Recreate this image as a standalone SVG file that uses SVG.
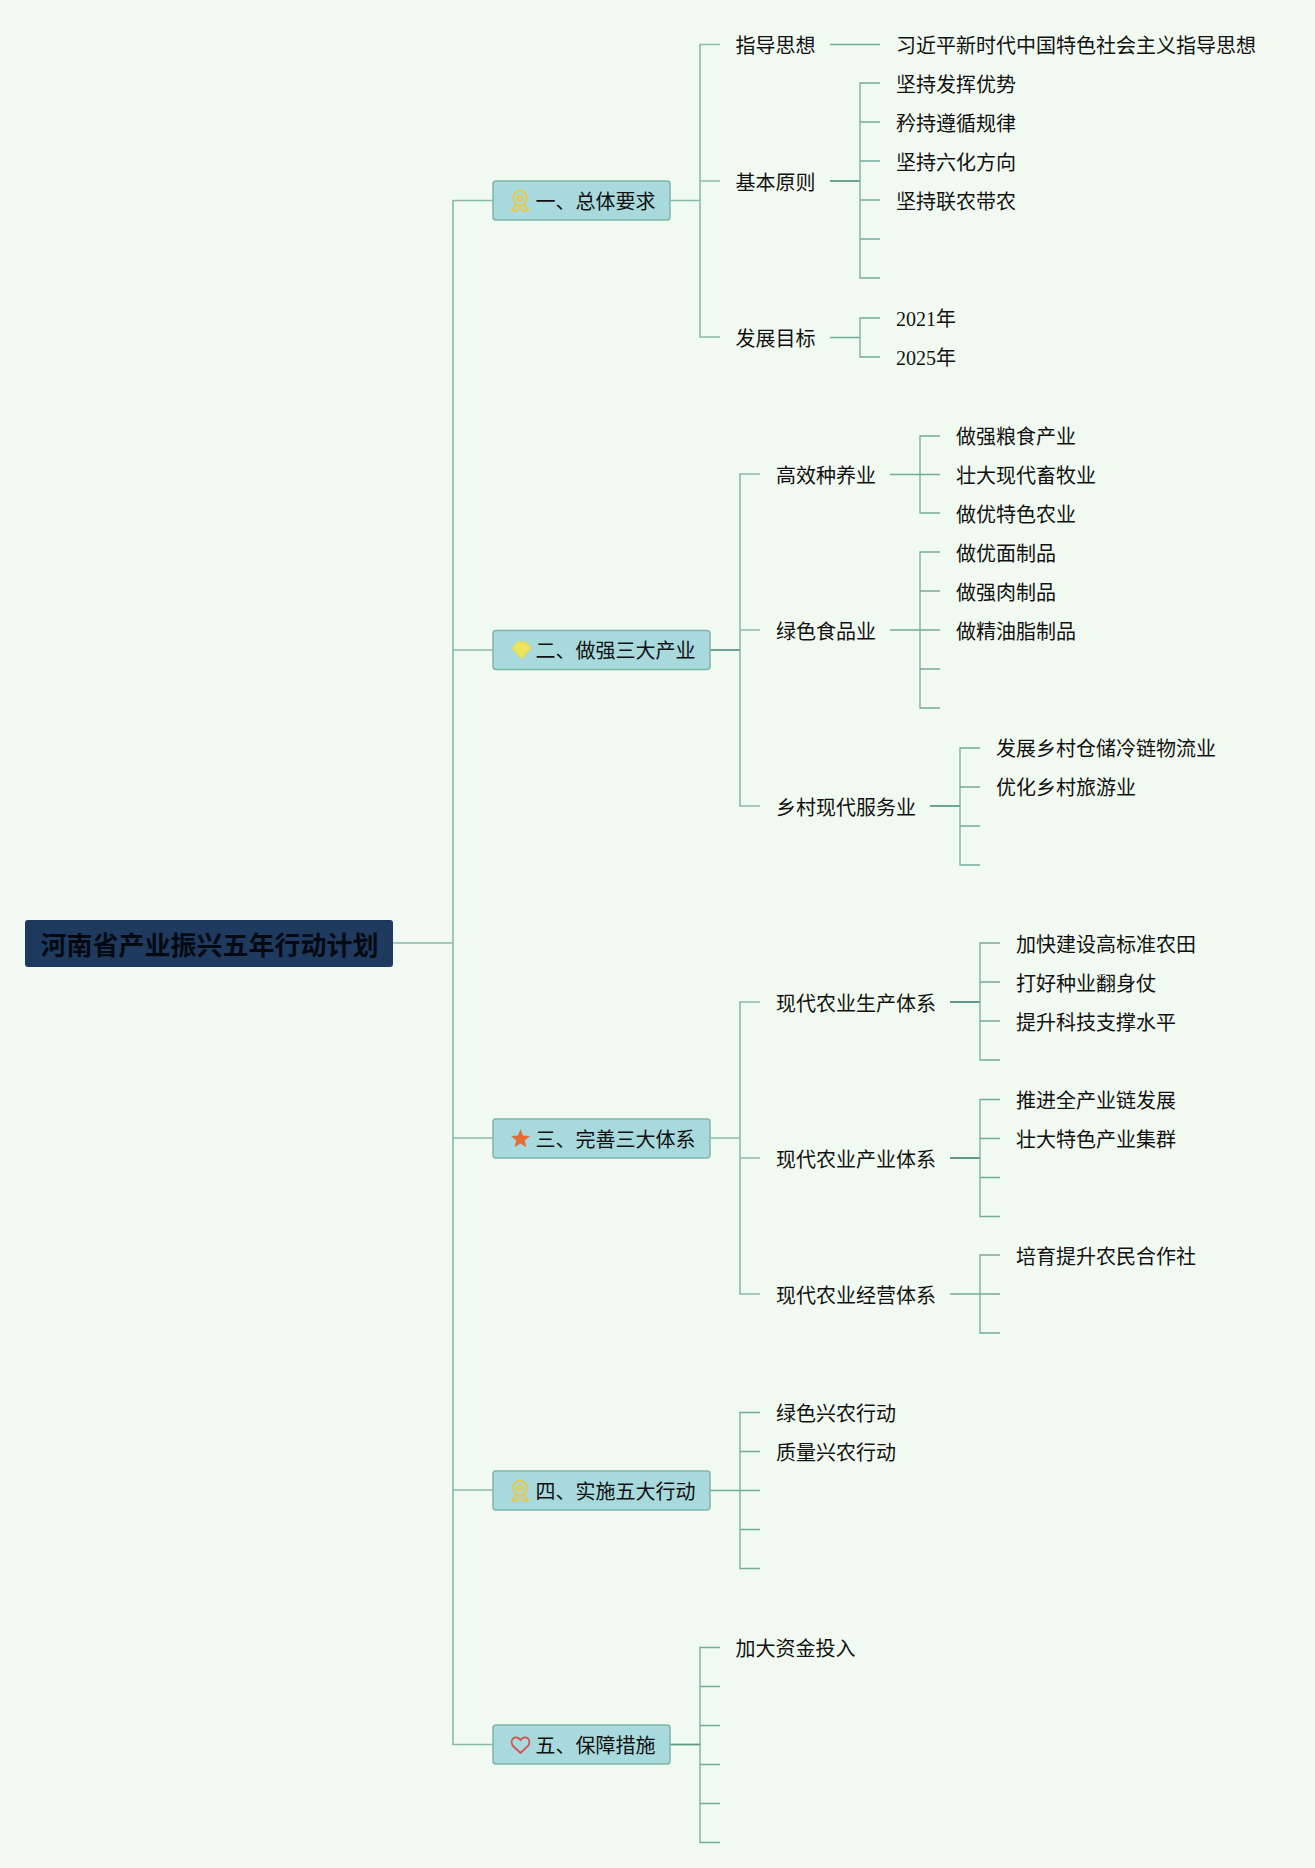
<svg xmlns="http://www.w3.org/2000/svg" width="1315" height="1868" viewBox="0 0 1315 1868">
<style>
text{font-family:"Liberation Serif","Noto Sans CJK SC",sans-serif;font-size:20px;fill:#111}
.c{fill:none;stroke:#74ab9a;stroke-width:1.3}
.t{fill:none;stroke:#8abba9;stroke-width:1.6}
.d{fill:none;stroke:#5f9a88;stroke-width:1.8}
.n{fill:#a8d9dc;stroke:#7fb5a8;stroke-width:1.5}
.r{font-size:26px;font-weight:700;fill:#050a12}
.m{fill:none;stroke:#e8c84a;stroke-width:2}
</style>
<defs>
<g id="medal"><ellipse cx="0" cy="-3" rx="6.500" ry="7.500" class="m"/><circle cx="0" cy="-3" r="2.500" class="m"/><path d="M-4 4L-8 9L-3.500 10L-1 6M4 4L8 9L3.500 10L1 6" class="m"/></g>
</defs>
<rect width="1315" height="1868" fill="#f1faf0"/>
<g id="connectors">
<path class="t" d="M393 943H453M493 200.500H453V1744.500H493M453 650H493M453 1138H493M453 1490H493"/>
<path class="t" d="M720 44.500H700V337H720M670 200.500H700M700 181H720"/>
<path class="c" d="M830 44.500H880"/>
<path class="d" d="M830 181H860"/>
<path class="c" d="M880 83H860V278H880M860 122H880M860 161H880M860 200H880M860 239H880"/>
<path class="c" d="M830 337.500H860M880 318H860V357H880"/>
<path class="t" d="M760 474H740V806H760M740 630H760"/>
<path class="d" d="M710 650H740"/>
<path class="c" d="M890 474.500H940M940 436H920V513H940"/>
<path class="c" d="M890 630H920M940 552H920V708H940M920 591H940M920 630H940M920 669H940"/>
<path class="d" d="M930 806H960"/>
<path class="c" d="M980 748H960V865H980M960 787H980M960 826H980"/>
<path class="t" d="M760 1002H740V1294H760M710 1138H740M740 1158H760"/>
<path class="d" d="M950 1002H980M950 1158H980"/>
<path class="c" d="M1000 943H980V1060H1000M980 982H1000M980 1021H1000"/>
<path class="c" d="M1000 1099.500H980V1216.500H1000M980 1138.500H1000M980 1177.500H1000"/>
<path class="c" d="M950 1294H1000M1000 1255H980V1333H1000"/>
<path class="c" d="M710 1490.500H760M760 1412.500H740V1568.500H760M740 1451.500H760M740 1529.500H760"/>
<path class="d" d="M670 1744.500H700"/>
<path class="c" d="M720 1647.500H700V1842.500H720M700 1686.500H720M700 1725.500H720M700 1764.500H720M700 1803.500H720"/>
</g>
<g id="root"><rect x="25" y="920" width="368" height="47" rx="3" fill="#1f3a5f"/><text class="r" x="40.500" y="954.500">河南省产业振兴五年行动计划</text></g>
<g id="n1"><rect class="n" x="493" y="181" width="177" height="39" rx="3"/><use href="#medal" x="520" y="201"/><text x="535.500" y="208.500">一、总体要求</text></g>
<g id="n2"><rect class="n" x="493" y="630.500" width="217" height="39" rx="3"/><path d="M512 648L517 642H526L531 648L521.500 659Z" fill="#ece45c" stroke="#e6d94a"/><text x="535.500" y="658">二、做强三大产业</text></g>
<g id="n3"><rect class="n" x="493" y="1119" width="217" height="39" rx="3"/><path d="M520.500 1129L523 1135.500L530 1136L524.700 1140.400L526.400 1147.200L520.500 1143.500L514.600 1147.200L516.300 1140.400L511 1136L518 1135.500Z" fill="#e66a35"/><text x="535.500" y="1146.500">三、完善三大体系</text></g>
<g id="n4"><rect class="n" x="493" y="1471" width="217" height="39" rx="3"/><use href="#medal" x="520" y="1491"/><text x="535.500" y="1498.500">四、实施五大行动</text></g>
<g id="n5"><rect class="n" x="493" y="1725" width="177" height="39" rx="3"/><path d="M520.500 1753L513 1746C508.500 1739.500 516 1734 520.500 1740C525 1734 532.500 1739.500 528 1746Z" fill="none" stroke="#d8504a" stroke-width="1.800"/><text x="535.500" y="1753">五、保障措施</text></g>
<g id="l1"><text x="735.500" y="53">指导思想</text><text x="896" y="53">习近平新时代中国特色社会主义指导思想</text></g>
<g id="l2"><text x="735.500" y="190">基本原则</text><text x="896" y="92">坚持发挥优势</text><text x="896" y="131">矜持遵循规律</text><text x="896" y="170">坚持六化方向</text><text x="896" y="209">坚持联农带农</text></g>
<g id="l3"><text x="735.500" y="345.500">发展目标</text><text x="896" y="326">2021年</text><text x="896" y="365">2025年</text></g>
<g id="l4"><text x="776" y="483">高效种养业</text><text x="956" y="444">做强粮食产业</text><text x="956" y="483">壮大现代畜牧业</text><text x="956" y="522">做优特色农业</text></g>
<g id="l5"><text x="776" y="639">绿色食品业</text><text x="956" y="561">做优面制品</text><text x="956" y="600">做强肉制品</text><text x="956" y="639">做精油脂制品</text></g>
<g id="l6"><text x="776" y="814.500">乡村现代服务业</text><text x="996" y="756">发展乡村仓储冷链物流业</text><text x="996" y="795">优化乡村旅游业</text></g>
<g id="l7"><text x="776" y="1010.500">现代农业生产体系</text><text x="1016" y="952">加快建设高标准农田</text><text x="1016" y="991">打好种业翻身仗</text><text x="1016" y="1030">提升科技支撑水平</text></g>
<g id="l8"><text x="776" y="1167">现代农业产业体系</text><text x="1016" y="1108">推进全产业链发展</text><text x="1016" y="1147">壮大特色产业集群</text></g>
<g id="l9"><text x="776" y="1303">现代农业经营体系</text><text x="1016" y="1264">培育提升农民合作社</text></g>
<g id="l10"><text x="776" y="1421">绿色兴农行动</text><text x="776" y="1460">质量兴农行动</text></g>
<g id="l11"><text x="735.500" y="1656">加大资金投入</text></g>
</svg>
